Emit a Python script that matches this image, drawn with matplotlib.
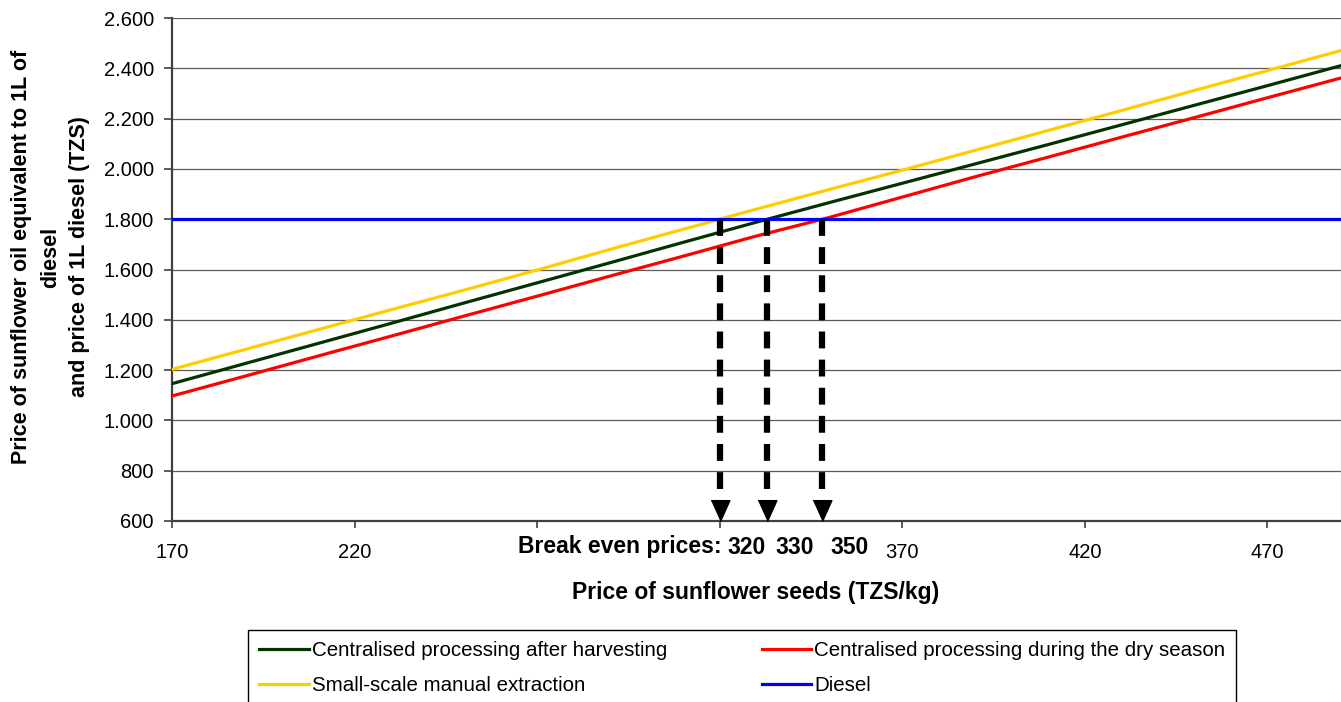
import numpy as np
import matplotlib
matplotlib.use("Agg")
import matplotlib.pyplot as plt
from matplotlib.ticker import FuncFormatter, FixedLocator

plt.rcParams["font.family"] = ["Liberation Sans", "DejaVu Sans"]

# seed price (TZS/kg)
seed_price = [170, 190, 210, 230, 250, 270, 290, 310, 330, 350, 370, 390, 410, 430, 450, 470, 490]

# price of sunflower oil equivalent to 1 L of diesel (TZS)
after_harvest = [1146, 1226, 1306, 1386, 1467, 1547, 1627, 1708, 1788, 1866, 1943, 2020, 2097, 2175, 2253, 2331, 2410]
dry_season = [1097, 1176, 1256, 1335, 1415, 1494, 1574, 1653, 1733, 1807, 1888, 1969, 2047, 2126, 2204, 2283, 2361]
small_scale = [1203, 1282, 1361, 1440, 1518, 1598, 1680, 1760, 1840, 1918, 1995, 2074, 2153, 2232, 2312, 2391, 2470]
diesel_price = 1800

series_names = ["Centralised processing after harvesting",
                "Centralised processing during the dry season",
                "Small-scale manual extraction",
                "Diesel"]

x_ticks = [170, 220, 270, 320, 370, 420, 470]
hidden_x_labels = [270, 320]
y_ticks = [600, 800, 1000, 1200, 1400, 1600, 1800, 2000, 2200, 2400, 2600]

fig = plt.figure(figsize=(13.41, 7.02), dpi=100)
ax = fig.add_axes([172 / 1341, 1 - 521 / 702, 1168.5 / 1341, 503 / 702])

ax.set_xlim(170, 490)
ax.set_ylim(600, 2600)

for v in y_ticks[1:]:
    ax.axhline(v, color="#5a5a5a", lw=0.9, zorder=1)

l_after, = ax.plot(seed_price, after_harvest, color="#003300", lw=2.3, zorder=3)
l_dry, = ax.plot(seed_price, dry_season, color="#ff0000", lw=2.3, zorder=3)
l_small, = ax.plot(seed_price, small_scale, color="#ffcc00", lw=2.3, zorder=3)
l_diesel, = ax.plot([seed_price[0], seed_price[-1]], [diesel_price, diesel_price],
                    color="#0000ff", lw=2.3, zorder=3)

# break-even points: where each oil price line crosses the diesel price
break_even = [np.interp(diesel_price, s, seed_price) for s in (small_scale, after_harvest, dry_season)]

head = [(-0.45, 1.0), (0.45, 1.0), (0.0, 0.0)]
for be in break_even:
    ax.plot([be, be], [diesel_price, 665], color="black", lw=4.5,
            linestyle=(0, (2.7, 1.8)), dash_capstyle="butt", zorder=5)
    ax.plot([be], [600], marker=head, markersize=30, color="black", mec="black", zorder=6,
            clip_on=False)

# break-even labels below the axis
ax.annotate("Break even prices:", xy=(break_even[0], 0), xycoords=("data", "axes fraction"),
            xytext=(2, -26), textcoords="offset pixels", ha="right", va="center",
            fontsize=16.5, fontweight="bold", annotation_clip=False)
for be in break_even:
    ax.annotate(f"{int(round(be / 10.0) * 10)}", xy=(be, 0), xycoords=("data", "axes fraction"),
                xytext=(27, -26), textcoords="offset pixels", ha="center", va="center",
                fontsize=16.5, fontweight="bold", annotation_clip=False)

ax.xaxis.set_major_locator(FixedLocator(x_ticks))
ax.set_xticklabels(["" if t in hidden_x_labels else str(t) for t in x_ticks])
ax.yaxis.set_major_locator(FixedLocator(y_ticks))
ax.yaxis.set_major_formatter(FuncFormatter(lambda v, p: f"{int(v):,}".replace(",", ".")))

ax.tick_params(axis="x", direction="out", length=5, width=1.2, color="#404040",
               labelsize=14.5, pad=11)
ax.tick_params(axis="y", direction="out", length=6, width=1.2, color="#404040",
               labelsize=14.5, pad=7)

for side in ("left", "bottom"):
    ax.spines[side].set_color("#404040")
    ax.spines[side].set_linewidth(1.6)
ax.spines["top"].set_visible(False)
ax.spines["right"].set_color("#c8c8c8")
ax.spines["right"].set_linewidth(0.9)

fig.text(756 / 1341, 1 - 592 / 702, "Price of sunflower seeds (TZS/kg)",
         ha="center", va="center", fontsize=16.5, fontweight="bold")
fig.text(51 / 1341, 1 - 257 / 702,
         "Price of sunflower oil equivalent to 1L of\ndiesel\nand price of 1L diesel (TZS)",
         ha="center", va="center", rotation=90, fontsize=15.5, fontweight="bold",
         multialignment="center", linespacing=1.5)

# legend filled column by column, so this order gives the two rows
leg = fig.legend([l_after, l_small, l_dry, l_diesel],
                 [series_names[0], series_names[2], series_names[1], series_names[3]],
                 loc="upper left", bbox_to_anchor=(248 / 1341, 1 - 630 / 702), ncol=2,
                 frameon=True, fancybox=False, framealpha=1, edgecolor="black",
                 fontsize=14.8, handlelength=2.4, handletextpad=0.15, columnspacing=4.6,
                 labelspacing=0.75, borderpad=0.55, borderaxespad=0)
leg.get_frame().set_linewidth(1.0)

fig.savefig("out.png", dpi=100)
